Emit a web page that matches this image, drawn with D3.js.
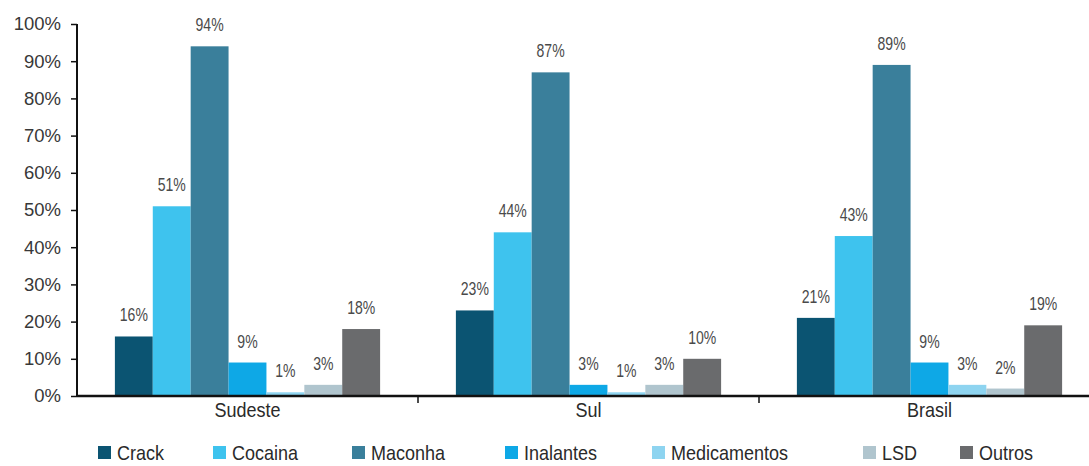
<!DOCTYPE html>
<html>
<head>
<meta charset="utf-8">
<script src="https://cdn.jsdelivr.net/npm/d3@7"></script>
<style>
  html, body { margin: 0; padding: 0; background: #fff; }
  svg { display: block; }
</style>
</head>
<body>
<svg id="chart" width="1089" height="466"></svg>
<script>
// ---- data ----
const groups = ["Sudeste", "Sul", "Brasil"];
const series = ["Crack", "Cocaina", "Maconha", "Inalantes", "Medicamentos", "LSD", "Outros"];
const sudeste = [16, 51, 94, 9, 1, 3, 18];
const sul = [23, 44, 87, 3, 1, 3, 10];
const brasil = [21, 43, 89, 9, 3, 2, 19];
const yTicks = [0, 10, 20, 30, 40, 50, 60, 70, 80, 90, 100];

// ---- styles / layout ----
const colors = ["#0b5472", "#3ec3ee", "#3a7f9b", "#0ea8e6", "#8ed4f0", "#b0c5ce", "#6a6b6d"];
const legendX = [98, 213, 352, 505, 652, 863, 960];
const sans = "'Liberation Sans', Arial, sans-serif";

const table = groups.map((g, i) => ({ group: g, values: [sudeste, sul, brasil][i] }));

const svg = d3.select("#chart");
const mLeft = 77, mRight = 1100, mTop = 24, mBottom = 396;

const x0 = d3.scaleBand().domain(groups).range([mLeft, mRight]).paddingInner(0).paddingOuter(0);
const x1 = d3.scaleBand().domain(series).range([0, x0.bandwidth()]).paddingInner(0).paddingOuter(1.0);
const y = d3.scaleLinear().domain([0, 100]).range([mBottom, mTop]);
const color = d3.scaleOrdinal().domain(series).range(colors);

// bars
const g = svg.selectAll("g.grp").data(table).enter().append("g")
  .attr("class", "grp")
  .attr("transform", d => `translate(${x0(d.group)},0)`);

g.selectAll("rect").data(d => d.values.map((v, i) => ({ s: series[i], v })))
  .enter().append("rect")
  .attr("x", d => x1(d.s))
  .attr("width", x1.bandwidth())
  .attr("y", d => y(d.v))
  .attr("height", d => y(0) - y(d.v))
  .attr("fill", d => color(d.s));

g.selectAll("text.val").data(d => d.values.map((v, i) => ({ s: series[i], v })))
  .enter().append("text")
  .attr("class", "val")
  .attr("transform", d => `translate(${x1(d.s) + x1.bandwidth() / 2},${y(d.v) - 15}) scale(0.78,1)`)
  .attr("text-anchor", "middle")
  .style("font-family", sans)
  .style("font-size", "18px")
  .style("fill", "#4a4a4a")
  .text(d => d.v + "%");

// y axis
const yAxis = d3.axisLeft(y).tickValues(yTicks).tickFormat(d => d + "%").tickSize(6).tickPadding(10);
const ya = svg.append("g").attr("transform", `translate(${mLeft},0)`).call(yAxis);
ya.select(".domain").attr("stroke", "#111").attr("stroke-width", 2).attr("d", `M0,${mTop}V${mBottom}`);
ya.selectAll(".tick line").attr("stroke", "#111").attr("stroke-width", 1.5);
ya.selectAll(".tick text")
  .style("font-family", sans)
  .style("font-size", "18.5px")
  .style("fill", "#383838");

// x axis
const xAxis = d3.axisBottom(x0).tickSize(0).tickPadding(7);
const xa = svg.append("g").attr("transform", `translate(0,${mBottom})`).call(xAxis);
xa.select(".domain").attr("stroke", "#111").attr("stroke-width", 2.5).attr("d", `M${mLeft},0H${mRight}`);
xa.selectAll(".tick text")
  .attr("transform", "scale(0.9,1)")
  .style("font-family", sans)
  .style("font-size", "20px")
  .style("fill", "#2a2a2a");
// group dividers
xa.selectAll("line.div").data(groups.slice(1)).enter().append("line")
  .attr("class", "div")
  .attr("x1", d => x0(d)).attr("x2", d => x0(d))
  .attr("y1", 0).attr("y2", 7)
  .attr("stroke", "#111").attr("stroke-width", 1.5);

// legend
const lg = svg.append("g").selectAll("g").data(series).enter().append("g")
  .attr("transform", (d, i) => `translate(${legendX[i]},446)`);
lg.append("rect").attr("width", 13).attr("height", 13).attr("fill", d => color(d));
lg.append("text")
  .attr("transform", "translate(19,14) scale(0.9,1)")
  .style("font-family", sans)
  .style("font-size", "20px")
  .style("fill", "#2a2a2a")
  .text(d => d);
</script>
</body>
</html>
